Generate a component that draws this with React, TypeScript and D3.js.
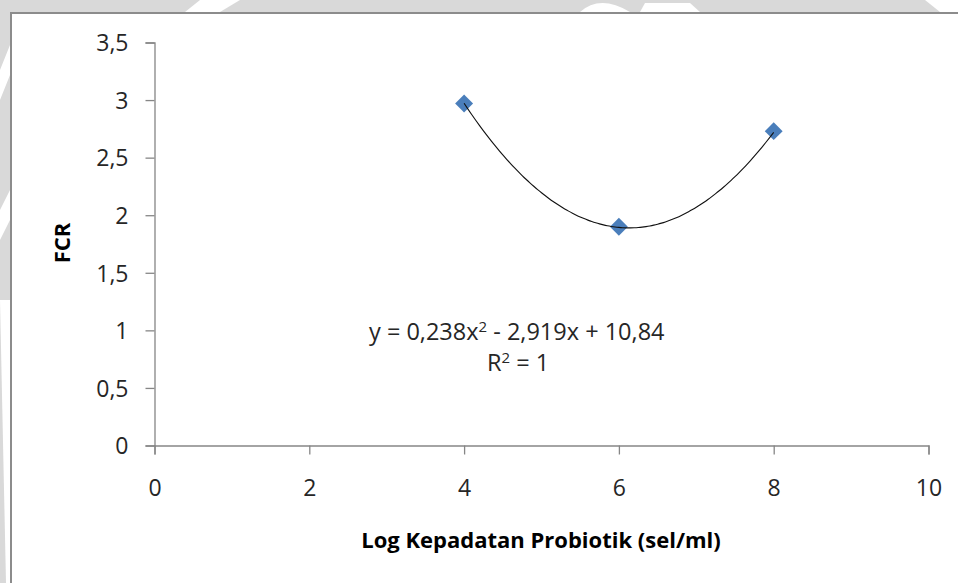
import React, { useEffect, useRef } from "react";
import * as d3 from "d3";

const width = 958;
const height = 583;

// observed points
const doses = [4, 6, 8];
const fcr = [2.97, 1.9, 2.73];

// trendline coefficients as printed on the chart (a, b, c)
const coef = [0.238, -2.919, 10.84];

const xTicks = [0, 2, 4, 6, 8, 10];
const yTicks = [0, 0.5, 1, 1.5, 2, 2.5, 3, 3.5];

const fmt = (v: number) => String(v).replace(".", ",");

export default function App() {
  const ref = useRef<SVGSVGElement>(null);

  useEffect(() => {
    const svg = d3.select(ref.current);
    svg.selectAll("*").remove();

    // grey watermark backdrop round the chart
    svg.append("rect").attr("width", width).attr("height", height).attr("fill", "#d9d9d9");
    const wm = svg.append("g").attr("fill", "#ffffff");
    wm.append("path").attr("d", "M0,70 L10,45 L10,75 L0,100 Z");
    wm.append("path").attr("d", "M0,210 L10,190 L10,220 L0,240 Z");
    wm.append("path").attr("d", "M0,300 L10,300 L10,583 L6,583 Z");
    wm.append("path").attr("d", "M200,0 L240,0 L220,12 L185,12 Z");
    wm.append("path").attr("d", "M580,12 Q600,-6 630,12 Z");
    wm.append("path").attr("d", "M640,12 L645,3 L690,3 L700,12 Z");
    wm.append("path").attr("d", "M925,0 L958,0 L958,12 L940,12 Z");

    // chart area with border
    svg
      .append("rect")
      .attr("x", 11)
      .attr("y", 13)
      .attr("width", width)
      .attr("height", height)
      .attr("fill", "#ffffff")
      .attr("stroke", "#8c8c8c")
      .attr("stroke-width", 2);

    const x = d3.scaleLinear().domain([0, 10]).range([154.5, 928.5]);
    const y = d3.scaleLinear().domain([0, 3.5]).range([445.5, 42.5]);

    const font = "'Open Sans', sans-serif";
    const axisColor = "#868686";
    const textColor = "#262626";

    // y axis
    const gy = svg
      .append("g")
      .attr("transform", `translate(${x(0)},0)`)
      .call(d3.axisLeft(y).tickValues(yTicks).tickSize(9).tickPadding(17).tickFormat((d) => fmt(+d)));
    gy.select(".domain").attr("stroke", axisColor).attr("stroke-width", 1.3);
    gy.selectAll(".tick line").attr("stroke", axisColor).attr("stroke-width", 1.3);
    gy.selectAll(".tick text")
      .attr("fill", textColor)
      .attr("font-family", font)
      .attr("font-size", 23)
      .attr("dy", "0.36em");

    // x axis
    const gx = svg
      .append("g")
      .attr("transform", `translate(0,${y(0)})`)
      .call(d3.axisBottom(x).tickValues(xTicks).tickSize(9).tickPadding(25).tickFormat((d) => fmt(+d)));
    gx.select(".domain").attr("stroke", axisColor).attr("stroke-width", 1.3);
    gx.selectAll(".tick line").attr("stroke", axisColor).attr("stroke-width", 1.3);
    gx.selectAll(".tick text")
      .attr("fill", textColor)
      .attr("font-family", font)
      .attr("font-size", 23);

    // polynomial trendline between first and last dose
    const poly = (v: number) => coef[0] * v * v + coef[1] * v + coef[2];
    const xs = d3.range(doses[0], doses[doses.length - 1] + 0.001, 0.05);
    const line = d3
      .line<number>()
      .x((d) => x(d))
      .y((d) => y(poly(d)))
      .curve(d3.curveMonotoneX);

    // markers
    const diamond = d3.symbol().type(d3.symbolSquare).size(160);
    svg
      .append("g")
      .selectAll("path")
      .data(doses)
      .enter()
      .append("path")
      .attr("d", diamond() as string)
      .attr("transform", (d, i) => `translate(${x(d)},${y(fcr[i])}) rotate(45)`)
      .attr("fill", "#4a7ebb");

    svg
      .append("path")
      .attr("d", line(xs) as string)
      .attr("fill", "none")
      .attr("stroke", "#111111")
      .attr("stroke-width", 1.1);

    // equation label
    const eq = svg
      .append("text")
      .attr("font-family", font)
      .attr("font-size", 23.5)
      .attr("fill", textColor)
      .attr("x", 369)
      .attr("y", 340);
    eq.append("tspan").text("y = 0,238x");
    eq.append("tspan").attr("dy", -8).attr("font-size", 15).text("2");
    eq.append("tspan").attr("dy", 8).text(" - 2,919x + 10,84");

    const r2 = svg
      .append("text")
      .attr("font-family", font)
      .attr("font-size", 23.5)
      .attr("fill", textColor)
      .attr("x", 487)
      .attr("y", 371);
    r2.append("tspan").text("R");
    r2.append("tspan").attr("dy", -8).attr("font-size", 15).text("2");
    r2.append("tspan").attr("dy", 8).text(" = 1");

    // axis titles
    svg
      .append("text")
      .attr("font-family", font)
      .attr("font-weight", "bold")
      .attr("font-size", 22)
      .attr("fill", "#000000")
      .attr("text-anchor", "middle")
      .attr("transform", "translate(70,243) rotate(-90)")
      .text("FCR");

    svg
      .append("text")
      .attr("font-family", font)
      .attr("font-weight", "bold")
      .attr("font-size", 22)
      .attr("fill", "#000000")
      .attr("text-anchor", "middle")
      .attr("x", 541)
      .attr("y", 548)
      .text("Log Kepadatan Probiotik (sel/ml)");
  }, []);

  return (
    <svg
      ref={ref}
      width={width}
      height={height}
      style={{ position: "fixed", top: 0, left: 0, display: "block" }}
    />
  );
}
